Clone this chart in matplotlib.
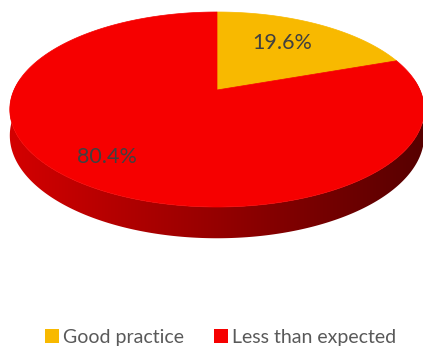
import numpy as np
import matplotlib
matplotlib.use("Agg")
import matplotlib.pyplot as plt
from matplotlib.patches import Polygon, Patch
from matplotlib.colors import to_rgb

labels = ["Good practice", "Less than expected"]
values = [19.6, 80.4]
colors = ["#F8B900", "#F60000"]
side_left = "#D40000"
side_right = "#560000"

plt.rcParams['font.family'] = ['Lato', 'DejaVu Sans']

fig = plt.figure(figsize=(4.23, 3.47), dpi=100)
ax = fig.add_axes([0, 0, 1, 1])
ax.set_xlim(0, 423)
ax.set_ylim(347, 0)
ax.axis('off')

# pseudo-3D projection parameters (screen pixels)
cx, R = 217, 203
a_, c_, d_ = -75.6, 90.0, 0.2
H = 25.0


def proj(theta_deg, r=1.0, z=0.0):
    t = np.radians(theta_deg)
    u, v = r * np.cos(t), r * np.sin(t)
    s = 1.0 / (1.0 + d_ * v)
    x = cx + R * u * s
    y = (a_ * v + c_) * s + z * s
    return x, y


fracs = np.array(values) / np.sum(values)
bounds = 90 - 360 * np.concatenate([[0], np.cumsum(fracs)])

# side wall: one polygon filled with a horizontal gradient
ths = np.linspace(-200, 20, 400)
top = [proj(t) for t in ths]
bot = [proj(t, z=H) for t in ths[::-1]]
side = Polygon(top + bot, closed=True, facecolor='none', edgecolor='none')
ax.add_patch(side)
cl, cr = np.array(to_rgb(side_left)), np.array(to_rgb(side_right))
fx = np.linspace(0, 1, 256)
grad = (cl[None, :] * (1 - fx[:, None]) + cr[None, :] * fx[:, None])[None, :, :]
im = ax.imshow(grad, extent=(8, 426, 250, 80), aspect='auto',
               interpolation='bilinear', zorder=1)
im.set_clip_path(side)

# top faces
for i in range(len(values)):
    ts = np.linspace(bounds[i], bounds[i + 1], 300)
    pts = [proj(90, r=0)] + [proj(t) for t in ts]
    ax.add_patch(Polygon(pts, closed=True, facecolor=colors[i],
                         edgecolor=colors[i], lw=0.5, zorder=2))

# data labels
txt_xy = [(282, 43), (107, 157)]
for v, (tx, ty) in zip(values, txt_xy):
    ax.text(tx, ty, f"{v:.1f}%", ha='center', va='center', fontsize=15.5,
            color='#404040', zorder=3)

handles = [Patch(facecolor=c, edgecolor='none') for c in colors]
leg = ax.legend(handles, labels, loc='center', bbox_to_anchor=(0.521, 0.027),
                ncol=2, frameon=False, fontsize=14, handlelength=0.72,
                handleheight=0.72, handletextpad=0.2, columnspacing=1.55,
                labelcolor='#595959')

fig.savefig("out.png", dpi=100, facecolor='white')
